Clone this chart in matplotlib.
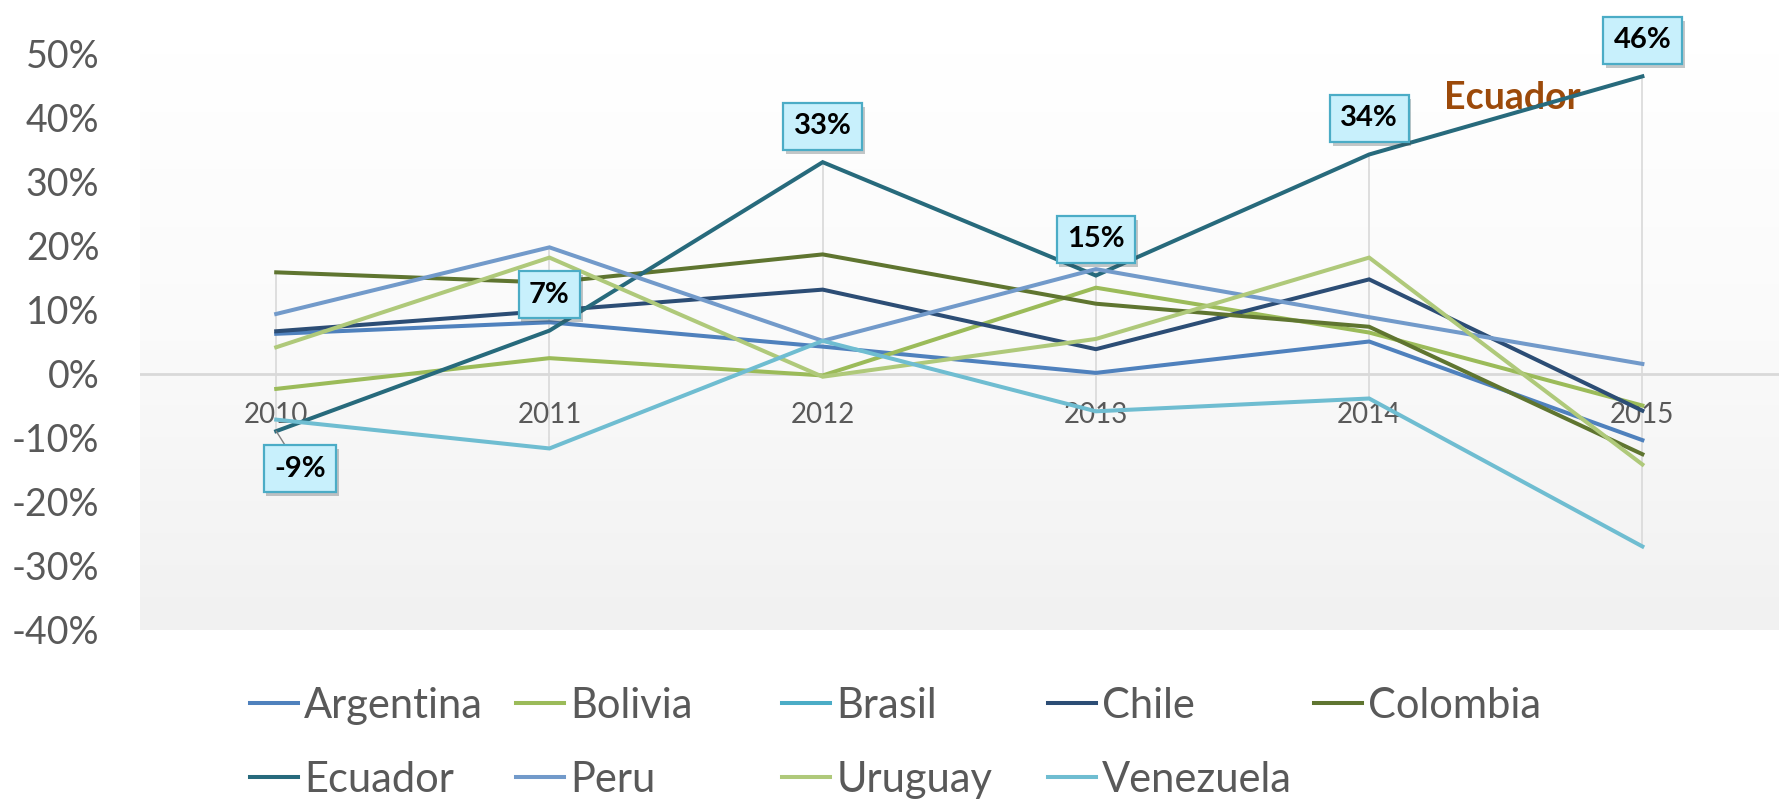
import matplotlib
matplotlib.use("Agg")
import matplotlib.pyplot as plt
import matplotlib.patheffects as pe
import numpy as np


years = ["2010", "2011", "2012", "2013", "2014", "2015"]

argentina = [0.062, 0.080, 0.042, 0.001, 0.050, -0.104]
bolivia = [-0.024, 0.024, -0.003, 0.134, 0.064, -0.050]
brasil = [np.nan, np.nan, np.nan, np.nan, np.nan, np.nan]
chile = [0.066, 0.098, 0.131, 0.038, 0.147, -0.058]
colombia = [0.158, 0.142, 0.186, 0.109, 0.073, -0.126]
ecuador = [-0.090, 0.067, 0.330, 0.153, 0.342, 0.464]
peru = [0.093, 0.197, 0.051, 0.163, 0.088, 0.015]
uruguay = [0.041, 0.181, -0.005, 0.054, 0.181, -0.142]
venezuela = [-0.072, -0.117, 0.051, -0.059, -0.039, -0.270]

countries = ["Argentina", "Bolivia", "Brasil", "Chile", "Colombia",
             "Ecuador", "Peru", "Uruguay", "Venezuela"]
colors = ["#4F81BD", "#9BBB59", "#4BACC6", "#2C4D75", "#5F7530",
          "#276A7C", "#729ACA", "#AFC97A", "#6FBDD1"]


def main():
    plt.rcParams['font.family'] = ['Lato', 'DejaVu Sans']
    series = [argentina, bolivia, brasil, chile, colombia,
              ecuador, peru, uruguay, venezuela]
    x = np.arange(len(years))

    fig = plt.figure(figsize=(17.79, 8.02), dpi=100)
    ax = fig.add_axes([139.6 / 1779, 1 - 629.7 / 802, 1 - 139.6 / 1779, (629.7 - 53.3) / 802])

    # gradient background, white at top to light gray at bottom
    grad = np.linspace(0, 1, 256).reshape(-1, 1)
    cmap = matplotlib.colors.LinearSegmentedColormap.from_list("bg", ["#F1F1F1", "#FAFAFA", "#FFFFFF"])
    ax.imshow(grad, cmap=cmap, aspect="auto", extent=(-0.5, len(years) - 0.5, -0.4, 0.5),
              zorder=0, origin="lower")
    ax.set_xlim(-0.5, len(years) - 0.5)
    ax.set_ylim(-0.4, 0.5)

    for s in ax.spines.values():
        s.set_visible(False)

    # high-low lines
    data = np.array(series, dtype=float)
    ax.vlines(x, np.nanmin(data, axis=0), np.nanmax(data, axis=0), color="#D9D9D9", lw=1.2, zorder=1)
    ax.axhline(0, color="#D9D9D9", lw=2, zorder=1)

    handles = []
    for name, vals, c in zip(countries, series, colors):
        h, = ax.plot(x, vals, color=c, lw=2.9, label=name, zorder=3, solid_joinstyle="miter")
        handles.append(h)

    ax.set_yticks(np.arange(-0.4, 0.51, 0.1))
    ax.set_yticklabels([f"{v:.0f}%" for v in np.arange(-40, 51, 10)])
    ax.tick_params(axis="y", length=0, pad=29, labelsize=27, labelcolor="#595959")
    ax.set_xticks([])

    for i, yr in enumerate(years):
        ax.annotate(yr, (i, 0), xytext=(0, -30), textcoords="offset points",
                    ha="center", va="center", fontsize=20, color="#595959", zorder=2)

    # data labels on Ecuador
    for i, v in enumerate(ecuador):
        if v < 0:
            off = (17, -27)
            arrow = dict(arrowstyle="-", color="#808080", lw=1, shrinkA=0, shrinkB=0)
        else:
            off = (0, 26)
            arrow = None
        t = ax.annotate(f"{v * 100:.0f}%", (i, v), xytext=off, textcoords="offset points",
                        ha="center", va="center", fontsize=21, fontweight="bold", color="black",
                        bbox=dict(boxstyle="square,pad=0.36", fc="#C8F0FC", ec="#4BACC6", lw=1.6),
                        arrowprops=arrow, zorder=6, annotation_clip=False)
        t.get_bbox_patch().set_path_effects([pe.withSimplePatchShadow(offset=(2, -3), alpha=0.3)])

    ax.text(4.523, 0.430, "Ecuador", fontsize=27, fontweight="bold", color="#9C4A0A",
            ha="center", va="center", zorder=2)

    # legend, Excel style with even columns
    for k in range(len(countries)):
        col = k % 5
        row = k // 5
        xpos = (250 + 266 * col) / 1779
        ypos = 1 - (706 + 74 * row) / 802
        fig.legend([handles[k]], [countries[k]], loc="center left", bbox_to_anchor=(xpos, ypos),
                   frameon=False, fontsize=30, handlelength=1.15, handletextpad=0.15,
                   borderpad=0, borderaxespad=0, labelcolor="#595959")

    fig.savefig("out.png", dpi=100)


if __name__ == "__main__":
    main()
